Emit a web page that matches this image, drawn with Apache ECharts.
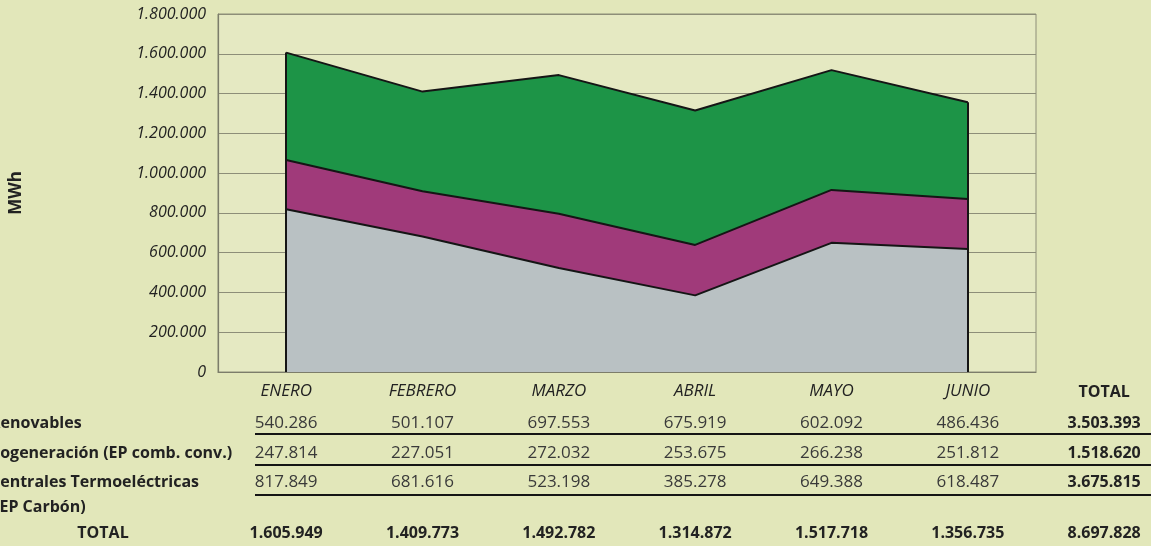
<!DOCTYPE html>
<html>
<head>
<meta charset="utf-8">
<script src="https://cdn.jsdelivr.net/npm/echarts@6/dist/echarts.min.js"></script>
<style>
  html, body { margin: 0; padding: 0; background: #e2e7ba; }
  #chart { width: 1151px; height: 546px; }
</style>
</head>
<body>
<div id="chart"></div>
<script>
const months       = ['ENERO', 'FEBRERO', 'MARZO', 'ABRIL', 'MAYO', 'JUNIO']
const renovables   = [540286, 501107, 697553, 675919, 602092, 486436]
const cogeneracion = [247814, 227051, 272032, 253675, 266238, 251812]
const centrales    = [817849, 681616, 523198, 385278, 649388, 618487]
// totals as printed in the table
const rowTotals    = [3503393, 1518620, 3675815]
const monthTotals  = [1605949, 1409773, 1492782, 1314872, 1517718, 1356735]
const grandTotal   = 8697828
const yTicks       = [0, 200000, 400000, 600000, 800000, 1000000, 1200000, 1400000, 1600000, 1800000]

const fmt = v => String(v).replace(/\B(?=(\d{3})+(?!\d))/g, '.')

const FONT = '"Open Sans", "Noto Sans", sans-serif'
const LINE = { color: '#151515', width: 2 }

const chart = echarts.init(document.getElementById('chart'))

chart.setOption({
  backgroundColor: '#e2e7ba',
  animation: false,
  textStyle: { fontFamily: FONT },
  grid: {
    left: 218, right: 115, top: 14, bottom: 174,
    show: true, backgroundColor: '#e5e9c2', borderColor: '#8d8e78', borderWidth: 1,
  },
  xAxis: {
    type: 'category',
    data: months,
    boundaryGap: true,
    axisTick: { show: false },
    axisLine: { lineStyle: { color: '#7c7d6a', width: 1.2 } },
    axisLabel: { color: '#222', fontSize: 17, fontStyle: 'italic', margin: 11 },
    splitLine: { show: false },
  },
  yAxis: {
    type: 'value',
    min: yTicks[0],
    max: yTicks[yTicks.length - 1],
    interval: 200000,
    name: 'MWh',
    nameLocation: 'middle',
    nameRotate: 90,
    nameGap: 193,
    nameTextStyle: { color: '#222', fontSize: 17, fontWeight: 'bold' },
    axisLine: { show: true, lineStyle: { color: '#7c7d6a', width: 1.2 } },
    axisTick: { show: false },
    axisLabel: { color: '#222', fontSize: 16, fontStyle: 'italic', margin: 12, formatter: v => fmt(v) },
    splitLine: { lineStyle: { color: '#8d8e78', width: 1.2 } },
  },
  series: [
    {
      name: 'Centrales Termoeléctricas (EP Carbón)',
      type: 'line', stack: 'total', data: centrales,
      symbol: 'none', lineStyle: LINE,
      areaStyle: { color: '#b9c1c3', opacity: 1 },
    },
    {
      name: 'Cogeneración (EP comb. conv.)',
      type: 'line', stack: 'total', data: cogeneracion,
      symbol: 'none', lineStyle: LINE,
      areaStyle: { color: '#a03a7a', opacity: 1 },
    },
    {
      name: 'Renovables',
      type: 'line', stack: 'total', data: renovables,
      symbol: 'none', lineStyle: LINE,
      areaStyle: { color: '#1d9447', opacity: 1 },
      markLine: {
        silent: true,
        symbol: 'none',
        label: { show: false },
        lineStyle: { color: '#151515', width: 2, type: 'solid' },
        data: [
          [{ coord: [months[0], 0] }, { coord: [months[0], monthTotals[0]] }],
          [{ coord: [months[5], 0] }, { coord: [months[5], monthTotals[5]] }],
        ],
      },
    },
  ],
})

// table below the chart, columns aligned to the category axis
const colX = months.map(m => chart.convertToPixel({ xAxisIndex: 0 }, m))
const totalX = colX[5] + (colX[5] - colX[4])

const rows = [
  { label: 'Renovables', values: renovables, total: rowTotals[0], y: 423 },
  { label: 'Cogeneración (EP comb. conv.)', values: cogeneracion, total: rowTotals[1], y: 453 },
  { label: 'Centrales Termoeléctricas', values: centrales, total: rowTotals[2], y: 482 },
]

const els = []
const txt = (text, x, y, opts = {}) => els.push({
  type: 'text', x, y,
  style: {
    text, fill: opts.fill || '#222',
    font: `normal ${opts.weight || 'normal'} ${opts.size || 16}px ${FONT}`,
    align: opts.align || 'center', verticalAlign: 'middle',
  },
})

txt('TOTAL', totalX, 392, { weight: 'bold' })

rows.forEach(r => {
  txt(r.label, -10, r.y, { weight: 'bold', align: 'left' })
  r.values.forEach((v, i) => txt(fmt(v), colX[i], r.y, { fill: '#3a3a3a', size: 17 }))
  txt(fmt(r.total), totalX, r.y, { weight: 'bold' })
})
txt('(EP Carbón)', -6, 507, { weight: 'bold', align: 'left' })

txt('TOTAL', 103, 533, { weight: 'bold' })
monthTotals.forEach((v, i) => txt(fmt(v), colX[i], 533, { weight: 'bold' }))
txt(fmt(grandTotal), totalX, 533, { weight: 'bold' })

;[434, 465, 495].forEach(y => els.push({
  type: 'line',
  shape: { x1: 255, y1: y, x2: 1151, y2: y },
  style: { stroke: '#151515', lineWidth: 2 },
}))

chart.setOption({ graphic: els })
</script>
</body>
</html>
